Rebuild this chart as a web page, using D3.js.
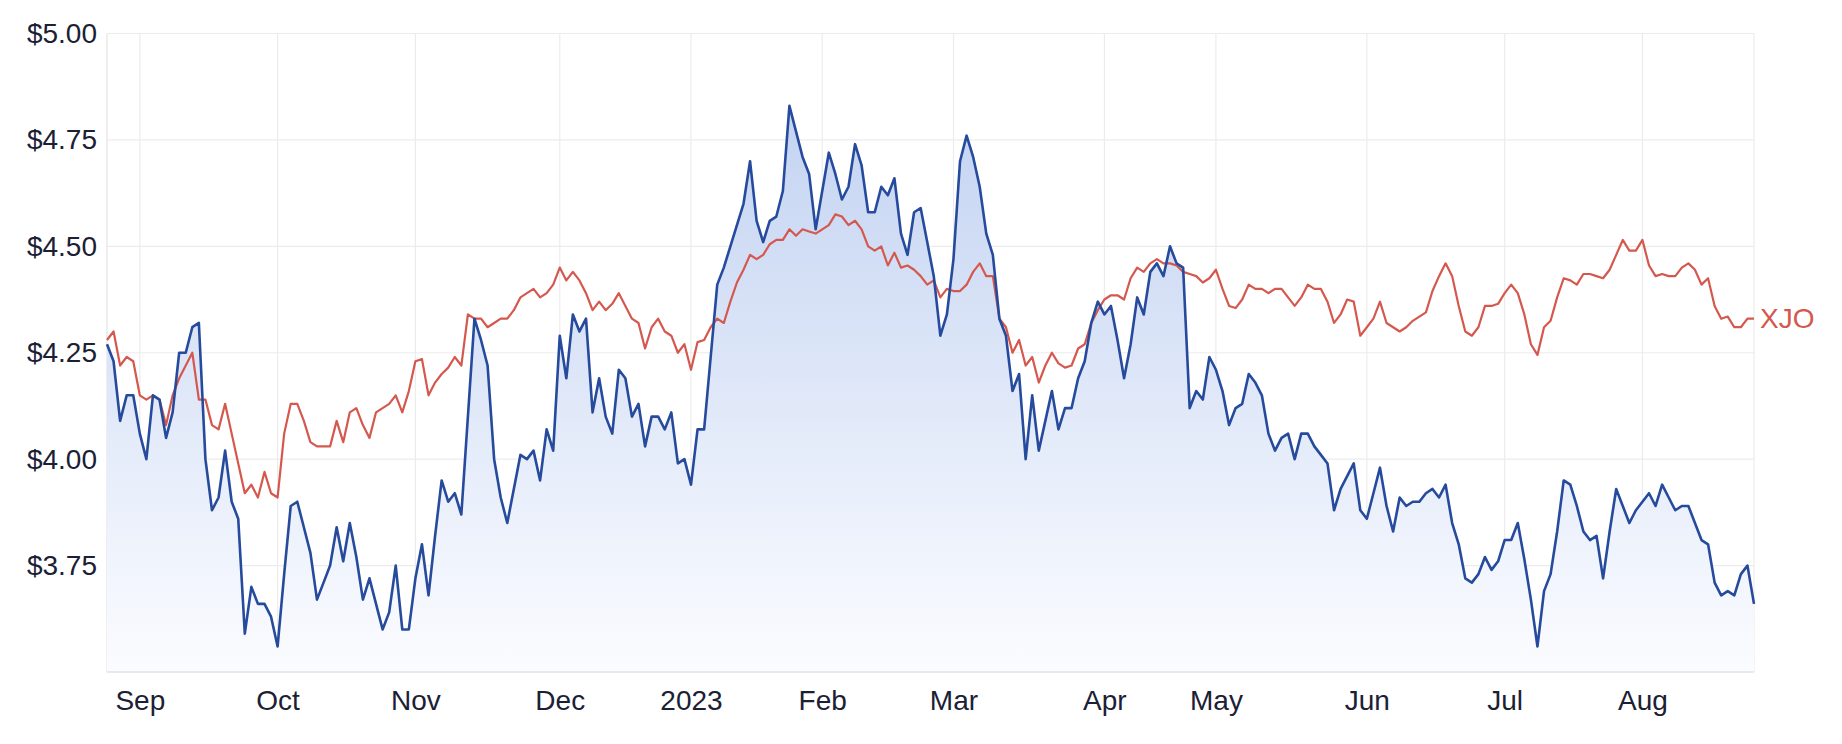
<!DOCTYPE html>
<html>
<head>
<meta charset="utf-8">
<script src="https://cdn.jsdelivr.net/npm/d3@7"></script>
<style>
  body { margin: 0; background: #fff; }
  text { font-family: "Liberation Sans", Arial, Helvetica, sans-serif; }
</style>
</head>
<body>
<script>
var width = 1842,
    height = 744;

var margin = {top: 33.5, right: 88, bottom: 72, left: 107};

// trading days run from this first to this last date, skipping weekends and ASX holidays
var startDate = "2022-08-25",
    endDate = "2023-08-24";
var holidays = ["2022-09-22", "2022-12-26", "2022-12-27", "2023-01-02", "2023-01-26",
                "2023-04-07", "2023-04-10", "2023-04-25", "2023-06-12"];

// closing price, one per trading day
var price = [
  4.27, 4.23, 4.09, 4.15, 4.15, 4.06, 4.00, 4.15, 4.14, 4.05, 4.11, 4.25, 4.25, 4.31, 4.32, 4.00,
  3.88, 3.91, 4.02, 3.90, 3.86, 3.59, 3.70, 3.66, 3.66, 3.63, 3.56, 3.73, 3.89, 3.90, 3.84, 3.78,
  3.67, 3.71, 3.75, 3.84, 3.76, 3.85, 3.77, 3.67, 3.72, 3.66, 3.60, 3.64, 3.75, 3.60, 3.60, 3.72,
  3.80, 3.68, 3.82, 3.95, 3.90, 3.92, 3.87, 4.10, 4.33, 4.28, 4.22, 4.00, 3.91, 3.85, 3.93, 4.01,
  4.00, 4.02, 3.95, 4.07, 4.02, 4.29, 4.19, 4.34, 4.30, 4.33, 4.11, 4.19, 4.10, 4.06, 4.21, 4.19,
  4.10, 4.13, 4.03, 4.10, 4.10, 4.07, 4.11, 3.99, 4.00, 3.94, 4.07, 4.07, 4.24, 4.41, 4.45, 4.50,
  4.55, 4.60, 4.70, 4.56, 4.51, 4.56, 4.57, 4.63, 4.83, 4.77, 4.71, 4.67, 4.54, 4.63, 4.72, 4.67,
  4.61, 4.64, 4.74, 4.69, 4.58, 4.58, 4.64, 4.62, 4.66, 4.53, 4.48, 4.58, 4.59, 4.51, 4.43, 4.29,
  4.34, 4.47, 4.70, 4.76, 4.71, 4.64, 4.53, 4.48, 4.33, 4.29, 4.16, 4.20, 4.00, 4.15, 4.02, 4.09,
  4.16, 4.07, 4.12, 4.12, 4.19, 4.23, 4.32, 4.37, 4.34, 4.36, 4.28, 4.19, 4.27, 4.38, 4.34, 4.44,
  4.46, 4.43, 4.50, 4.46, 4.45, 4.12, 4.16, 4.14, 4.24, 4.21, 4.16, 4.08, 4.12, 4.13, 4.20, 4.18,
  4.15, 4.06, 4.02, 4.05, 4.06, 4.00, 4.06, 4.06, 4.03, 4.01, 3.99, 3.88, 3.93, 3.96, 3.99, 3.88,
  3.86, 3.92, 3.98, 3.89, 3.83, 3.91, 3.89, 3.90, 3.90, 3.92, 3.93, 3.91, 3.94, 3.85, 3.80, 3.72,
  3.71, 3.73, 3.77, 3.74, 3.76, 3.81, 3.81, 3.85, 3.765, 3.67, 3.56, 3.69, 3.73, 3.83, 3.95, 3.94,
  3.89, 3.83, 3.81, 3.82, 3.72, 3.83, 3.93, 3.89, 3.85, 3.88, 3.90, 3.92, 3.89, 3.94, 3.91, 3.88,
  3.89, 3.89, 3.85, 3.81, 3.80, 3.71, 3.68, 3.69, 3.68, 3.73, 3.75, 3.66
];

// XJO index rebased onto the price scale
var xjo = [
  4.28, 4.30, 4.22, 4.24, 4.23, 4.15, 4.14, 4.15, 4.14, 4.08, 4.15, 4.19, 4.22, 4.25, 4.14, 4.14,
  4.08, 4.07, 4.13, 4.06, 3.99, 3.92, 3.94, 3.91, 3.97, 3.92, 3.91, 4.06, 4.13, 4.13, 4.09, 4.04,
  4.03, 4.03, 4.03, 4.09, 4.04, 4.11, 4.12, 4.08, 4.05, 4.11, 4.12, 4.13, 4.15, 4.11, 4.16, 4.23,
  4.235, 4.15, 4.18, 4.20, 4.215, 4.24, 4.22, 4.34, 4.33, 4.33, 4.31, 4.32, 4.33, 4.33, 4.35, 4.38,
  4.39, 4.40, 4.38, 4.39, 4.41, 4.45, 4.42, 4.44, 4.42, 4.39, 4.35, 4.37, 4.35, 4.365, 4.39, 4.36,
  4.33, 4.32, 4.26, 4.31, 4.33, 4.30, 4.29, 4.25, 4.27, 4.21, 4.275, 4.28, 4.31, 4.33, 4.32, 4.37,
  4.415, 4.445, 4.48, 4.47, 4.48, 4.505, 4.515, 4.515, 4.54, 4.525, 4.54, 4.535, 4.53, 4.54, 4.55, 4.575,
  4.57, 4.55, 4.56, 4.54, 4.50, 4.49, 4.50, 4.455, 4.485, 4.45, 4.455, 4.445, 4.43, 4.41, 4.42, 4.38,
  4.40, 4.395, 4.395, 4.41, 4.44, 4.46, 4.43, 4.43, 4.33, 4.31, 4.25, 4.28, 4.22, 4.24, 4.18, 4.22,
  4.25, 4.225, 4.215, 4.22, 4.26, 4.27, 4.32, 4.35, 4.375, 4.385, 4.385, 4.375, 4.425, 4.45, 4.44, 4.46,
  4.47, 4.46, 4.46, 4.455, 4.44, 4.435, 4.43, 4.415, 4.425, 4.445, 4.40, 4.36, 4.355, 4.375, 4.41, 4.40,
  4.40, 4.39, 4.40, 4.40, 4.38, 4.36, 4.38, 4.41, 4.40, 4.40, 4.37, 4.32, 4.34, 4.375, 4.37, 4.29,
  4.31, 4.33, 4.37, 4.32, 4.31, 4.30, 4.31, 4.325, 4.335, 4.345, 4.395, 4.43, 4.46, 4.43, 4.36, 4.30,
  4.29, 4.31, 4.36, 4.36, 4.365, 4.39, 4.41, 4.39, 4.34, 4.27, 4.245, 4.31, 4.325, 4.38, 4.425, 4.42,
  4.41, 4.435, 4.435, 4.43, 4.425, 4.445, 4.48, 4.515, 4.49, 4.49, 4.515, 4.455, 4.43, 4.435, 4.43, 4.43,
  4.45, 4.46, 4.445, 4.41, 4.425, 4.36, 4.33, 4.335, 4.31, 4.31, 4.33, 4.33
];

var yTicks = [3.75, 4.00, 4.25, 4.50, 4.75, 5.00];
var yDomain = [3.5, 5.0];
var seriesLabel = "XJO";

//build the list of trading days
var parse = d3.utcParse("%Y-%m-%d");
var fmt = d3.utcFormat("%Y-%m-%d");
var dates = d3.utcDays(parse(startDate), d3.utcDay.offset(parse(endDate), 1)).filter(function(d){
    var wd = d.getUTCDay();
    return wd != 0 && wd != 6 && holidays.indexOf(fmt(d)) < 0;
});

var data = dates.map(function(d, i){ return {date: d, price: price[i], xjo: xjo[i]}; });

var x = d3.scaleLinear().domain([0, data.length - 1]).range([margin.left, width - margin.right]);
var y = d3.scaleLinear().domain(yDomain).range([height - margin.bottom, margin.top]);

//first trading day of each month gets a tick
var monthTicks = [];
data.forEach(function(d, i){
    if (i > 0 && d.date.getUTCMonth() != data[i-1].date.getUTCMonth()) monthTicks.push(i);
});
var monthLabel = function(i){
    var d = data[i].date;
    return d.getUTCMonth() == 0 ? d3.utcFormat("%Y")(d) : d3.utcFormat("%b")(d);
};

var svg = d3.select("body").append("svg")
    .attr("width", width)
    .attr("height", height);

var defs = svg.append("defs");
var grad = defs.append("linearGradient")
    .attr("id", "fillGrad")
    .attr("gradientUnits", "userSpaceOnUse")
    .attr("x1", 0).attr("x2", 0)
    .attr("y1", y(yDomain[1])).attr("y2", y(yDomain[0]));
grad.append("stop").attr("offset", "0%").attr("stop-color", "#bccef0");
grad.append("stop").attr("offset", "100%").attr("stop-color", "#fbfcff");

//grid
var grid = svg.append("g").attr("class", "grid");
grid.selectAll(".hline").data(yTicks)
    .enter().append("line")
    .attr("x1", margin.left).attr("x2", width - margin.right)
    .attr("y1", function(d){ return y(d); }).attr("y2", function(d){ return y(d); })
    .attr("stroke", "#ececec").attr("stroke-width", 1.2);
grid.selectAll(".vline").data(monthTicks)
    .enter().append("line")
    .attr("x1", function(d){ return x(d); }).attr("x2", function(d){ return x(d); })
    .attr("y1", margin.top).attr("y2", height - margin.bottom)
    .attr("stroke", "#ececec").attr("stroke-width", 1.2);
grid.append("line")
    .attr("x1", margin.left).attr("x2", margin.left)
    .attr("y1", margin.top).attr("y2", height - margin.bottom)
    .attr("stroke", "#e4e4e4").attr("stroke-width", 1.2);
grid.append("line")
    .attr("x1", width - margin.right).attr("x2", width - margin.right)
    .attr("y1", margin.top).attr("y2", height - margin.bottom)
    .attr("stroke", "#ececec").attr("stroke-width", 1.2);

//area and lines
var area = d3.area()
    .x(function(d, i){ return x(i); })
    .y0(y(yDomain[0]))
    .y1(function(d){ return y(d.price); });
var priceLine = d3.line()
    .x(function(d, i){ return x(i); })
    .y(function(d){ return y(d.price); });
var xjoLine = d3.line()
    .x(function(d, i){ return x(i); })
    .y(function(d){ return y(d.xjo); });

svg.append("path").datum(data)
    .attr("d", area)
    .attr("fill", "url(#fillGrad)");

svg.append("line")
    .attr("x1", margin.left).attr("x2", width - margin.right)
    .attr("y1", y(yDomain[0])).attr("y2", y(yDomain[0]))
    .attr("stroke", "#e2e2e2").attr("stroke-width", 1.5);

svg.append("path").datum(data)
    .attr("d", xjoLine)
    .attr("fill", "none")
    .attr("stroke", "#d5584e")
    .attr("stroke-width", 2.2)
    .attr("stroke-linejoin", "round");

svg.append("path").datum(data)
    .attr("d", priceLine)
    .attr("fill", "none")
    .attr("stroke", "#264a9c")
    .attr("stroke-width", 2.6)
    .attr("stroke-linejoin", "round");

//axes
var yAxis = d3.axisLeft(y).tickValues(yTicks).tickSize(0).tickPadding(10)
    .tickFormat(function(d){ return "$" + d3.format(".2f")(d); });
svg.append("g")
    .attr("transform", "translate(" + margin.left + ",0)")
    .call(yAxis)
    .call(function(g){ g.select(".domain").remove(); })
    .selectAll("text")
    .attr("font-size", 28)
    .attr("fill", "#1b2034")
    .attr("font-family", "Liberation Sans, Arial, sans-serif");

var xAxis = d3.axisBottom(x).tickValues(monthTicks).tickSize(0).tickPadding(18)
    .tickFormat(monthLabel);
svg.append("g")
    .attr("transform", "translate(0," + (height - margin.bottom) + ")")
    .call(xAxis)
    .call(function(g){ g.select(".domain").remove(); })
    .selectAll("text")
    .attr("font-size", 28)
    .attr("fill", "#1b2034")
    .attr("font-family", "Liberation Sans, Arial, sans-serif");

//end label for the index line
svg.append("text")
    .attr("x", width - margin.right + 6)
    .attr("y", y(xjo[xjo.length - 1]))
    .attr("dy", "0.35em")
    .attr("font-size", 28)
    .attr("fill", "#d5584e")
    .text(seriesLabel);
</script>
</body>
</html>
